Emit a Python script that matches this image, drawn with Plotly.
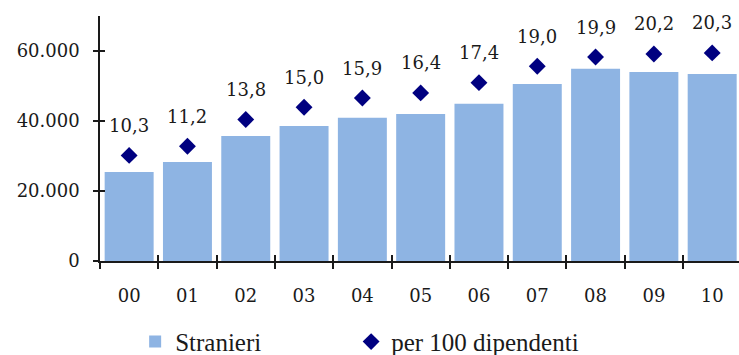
import plotly.graph_objects as go

# Foreign workers (Stranieri) by year and per 100 employees
years = ["00", "01", "02", "03", "04", "05", "06", "07", "08", "09", "10"]
stranieri = [25400, 28300, 35700, 38600, 40900, 42000, 44900, 50600, 54900, 54000, 53400]
per_100 = [10.3, 11.2, 13.8, 15.0, 15.9, 16.4, 17.4, 19.0, 19.9, 20.2, 20.3]
y_ticks = [0, 20000, 40000, 60000]
y_tick_labels = ["0", "20.000", "40.000", "60.000"]

BAR = "#8EB4E3"
NAVY = "#000080"
INK = "#1a1a1a"
NUM_FONT = "DejaVu Serif"
TXT_FONT = "Liberation Serif, DejaVu Serif"

x_pos = list(range(len(years)))
x_range = [-0.5, 10.46]
y_range = [0, 70000]
y2_range = [0, 23.9]
boundaries = [p - 0.5 for p in x_pos]

fig = go.Figure()
fig.add_trace(go.Bar(
    x=x_pos, y=stranieri, name="Stranieri",
    marker=dict(color=BAR, line=dict(width=0)),
    xaxis="x", yaxis="y", legend="legend",
))
fig.add_trace(go.Scatter(
    x=x_pos, y=per_100, name="per 100 dipendenti", mode="markers",
    marker=dict(symbol="diamond", size=13, color=NAVY),
    xaxis="x", yaxis="y2", legend="legend2",
))
# empty helper traces so the tick-only overlay axes are drawn
fig.add_trace(go.Scatter(x=[None], y=[None], xaxis="x2", yaxis="y3",
                         showlegend=False, hoverinfo="skip"))
fig.add_trace(go.Scatter(x=[None], y=[None], xaxis="x3", yaxis="y",
                         showlegend=False, hoverinfo="skip"))

for xi, v in zip(x_pos, per_100):
    fig.add_annotation(
        x=xi, y=v, xref="x", yref="y2",
        text=f"{v:.1f}".replace(".", ","),
        showarrow=False, yshift=30,
        font=dict(family=NUM_FONT, size=18, color=INK),
    )

legend_style = dict(
    orientation="h", xanchor="left", y=-0.33, yanchor="middle",
    font=dict(family=TXT_FONT, size=25, color=INK),
    bgcolor="rgba(0,0,0,0)",
)

fig.update_layout(
    width=739, height=355,
    font=dict(family=TXT_FONT, color=INK),
    margin=dict(l=100, r=0, t=16, b=94, autoexpand=False),
    paper_bgcolor="white", plot_bgcolor="white",
    bargap=0.16,
    showlegend=True,
    legend=dict(x=0.055, **legend_style),
    legend2=dict(x=0.393, **legend_style),
    xaxis=dict(
        range=x_range, tickvals=x_pos, ticktext=years,
        showline=True, linecolor=INK, linewidth=1.5,
        ticks="", showgrid=False, zeroline=False,
        ticklabelstandoff=18,
        tickfont=dict(family=NUM_FONT, size=18, color=INK),
    ),
    xaxis2=dict(
        overlaying="x", anchor="y", side="bottom", range=x_range,
        tickvals=boundaries,
        ticks="outside", ticklen=7, tickwidth=1.5, tickcolor=INK,
        showticklabels=False, showline=False, showgrid=False, zeroline=False,
    ),
    xaxis3=dict(
        overlaying="x", anchor="y", side="bottom", range=x_range,
        tickvals=boundaries,
        ticks="inside", ticklen=6, tickwidth=1.5, tickcolor=INK,
        showticklabels=False, showline=False, showgrid=False, zeroline=False,
    ),
    yaxis=dict(
        range=y_range, tickvals=y_ticks, ticktext=y_tick_labels,
        showline=True, linecolor=INK, linewidth=1.5,
        ticks="outside", ticklen=5, tickwidth=1.5, tickcolor=INK,
        showgrid=False, zeroline=False, ticklabelstandoff=10,
        tickfont=dict(family=NUM_FONT, size=18, color=INK),
    ),
    yaxis2=dict(
        overlaying="y", side="right", range=y2_range,
        showticklabels=False, showline=False, showgrid=False,
        zeroline=False, ticks="",
    ),
    yaxis3=dict(
        overlaying="y", side="left", range=y_range, tickvals=y_ticks,
        ticks="inside", ticklen=5, tickwidth=1.5, tickcolor=INK,
        showticklabels=False, showline=False, showgrid=False, zeroline=False,
    ),
)

fig.write_html("out.html")
